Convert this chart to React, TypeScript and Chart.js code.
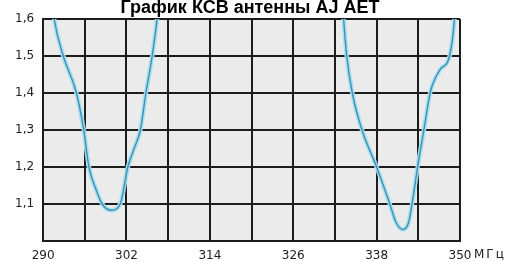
import React, { useEffect, useRef } from "react";
import { Chart, registerables } from "chart.js";

Chart.register(...registerables);

const TITLE = "График КСВ антенны AJ AET";
const UNIT = "МГц";

const X_LABELS = [290, 302, 314, 326, 338, 350];

const leftFreq = [291.0, 291.6, 292.9, 294.8, 295.85, 296.6, 297.5, 298.5, 299.8, 301.1, 302.2, 303.1, 304.0, 304.8, 305.7, 306.4, 306.9];
const leftVswr = [1.7, 1.6, 1.5, 1.4, 1.3, 1.2, 1.145, 1.1, 1.083, 1.1, 1.2, 1.25, 1.3, 1.4, 1.5, 1.6, 1.7];

const rightFreq = [332.9, 333.25, 333.7, 334.5, 335.9, 338.0, 339.9, 340.8, 341.8, 342.6, 343.1, 343.9, 344.8, 345.7, 346.2, 347.2, 348.5, 349.2, 349.5];
const rightVswr = [1.7, 1.6, 1.5, 1.4, 1.3, 1.2, 1.1, 1.05, 1.031, 1.05, 1.1, 1.2, 1.3, 1.4, 1.43, 1.465, 1.5, 1.6, 1.7];

const toPoints = (xs: number[], ys: number[]) => xs.map((x, i) => ({ x, y: ys[i] }));

const bgPlugin = {
  id: "plotBg",
  beforeDraw(chart: any) {
    const { ctx, chartArea } = chart;
    ctx.save();
    ctx.fillStyle = "#ffffff";
    ctx.fillRect(0, 0, chart.width, chart.height);
    ctx.fillStyle = "#ebebeb";
    ctx.fillRect(chartArea.left, chartArea.top, chartArea.right - chartArea.left, chartArea.bottom - chartArea.top);
    ctx.restore();
  },
  afterDraw(chart: any) {
    const { ctx } = chart;
    ctx.save();
    ctx.fillStyle = "#000000";
    ctx.font = "bold 18px 'Liberation Sans', Arial, sans-serif";
    ctx.textAlign = "center";
    ctx.textBaseline = "alphabetic";
    ctx.fillText(TITLE, 250, 13);
    const xs = chart.scales.x;
    const px = xs.getPixelForValue(350);
    ctx.font = "12px 'DejaVu Sans', sans-serif";
    (ctx as any).letterSpacing = "2px";
    ctx.fillStyle = "#222222";
    ctx.textAlign = "left";
    ctx.textBaseline = "middle";
    ctx.fillText(UNIT, px + 14, 255);
    ctx.restore();
  },
};

export default function App() {
  const ref = useRef<HTMLCanvasElement | null>(null);
  useEffect(() => {
    if (!ref.current) return;
    const halo = "rgba(165, 222, 242, 0.95)";
    const core = "#4090b0";
    const line = (xs: number[], ys: number[], color: string, w: number) =>
      ({ data: toPoints(xs, ys), borderColor: color, borderWidth: w, pointRadius: 0, cubicInterpolationMode: "monotone", clip: 0 } as any);
    const chart = new Chart(ref.current, {
      type: "line",
      data: {
        datasets: [
          line(leftFreq, leftVswr, core, 1.4),
          line(rightFreq, rightVswr, core, 1.4),
          line(leftFreq, leftVswr, halo, 4.5),
          line(rightFreq, rightVswr, halo, 4.5),
        ],
      },
      options: {
        animation: false,
        responsive: true,
        maintainAspectRatio: false,
        layout: { padding: { top: 19, left: 6, right: 51, bottom: 0 } },
        plugins: { legend: { display: false }, title: { display: false }, tooltip: { enabled: false } },
        scales: {
          x: {
            type: "linear",
            min: 290,
            max: 350,
            afterFit: (s: any) => { s.height = 21; },
            ticks: {
              stepSize: 6,
              autoSkip: false,
              maxRotation: 0,
              padding: 9,
              color: "#222222",
              font: { family: "'DejaVu Sans', sans-serif", size: 12, lineHeight: 1 },
              callback: (v: any) => (X_LABELS.includes(Math.round(Number(v))) ? String(Math.round(Number(v))) : ""),
            },
            grid: { color: "#1c1c1c", lineWidth: 2, drawTicks: false },
            border: { color: "#1c1c1c", width: 2 },
          },
          y: {
            type: "linear",
            min: 1.0,
            max: 1.6,
            ticks: {
              stepSize: 0.1,
              padding: 9,
              color: "#222222",
              font: { family: "'DejaVu Sans', sans-serif", size: 12, lineHeight: 1 },
              callback: (v: any) => {
                const n = Math.round(Number(v) * 10) / 10;
                return n <= 1.0 ? "" : n.toFixed(1).replace(".", ",");
              },
            },
            grid: { color: "#1c1c1c", lineWidth: 2, drawTicks: false },
            border: { color: "#1c1c1c", width: 2 },
          },
        },
      } as any,
      plugins: [bgPlugin],
    });
    return () => chart.destroy();
  }, []);
  return (
    <div style={{ position: "fixed", left: 0, top: 0, width: 511, height: 262, background: "#fff" }}>
      <canvas ref={ref} />
    </div>
  );
}
